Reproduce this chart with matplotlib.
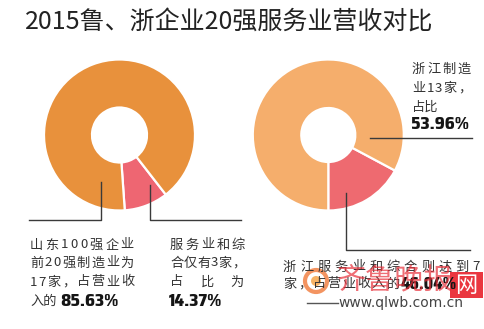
import matplotlib
matplotlib.use("Agg")
import matplotlib.pyplot as plt
from matplotlib import font_manager
from matplotlib.font_manager import FontProperties
from matplotlib.patches import Circle, Rectangle

# ---- data ----
title = "2015鲁、浙企业20强服务业营收对比"
shandong_labels = ["制造业", "服务业和综合"]
shandong_pct = [85.63, 14.37]          # percentages printed in the chart
shandong_drawn = [90.6, 9.4]            # wedge shares as drawn in the picture
zhejiang_labels = ["制造业", "服务业和综合"]
zhejiang_pct = [53.96, 46.04]
zhejiang_drawn = [82.8, 17.2]

W, H = 484, 329
CJK = ["Noto Sans CJK SC", "DejaVu Sans"]
plt.rcParams["font.family"] = CJK

# find a condensed/narrow bold font for the big numbers
numfile = None
cands = []
for f in font_manager.fontManager.ttflist:
    fn = f.fname.lower()
    if ("narrow" in fn or "condensed" in fn) and ("bold" in fn or "black" in fn or "heavy" in fn):
        if "oblique" in fn or "italic" in fn:
            continue
        score = 0
        if "black" in fn or "heavy" in fn or "extrabold" in fn:
            score += 2
        if "narrow" in fn:
            score += 1
        cands.append((score, f.fname))
if cands:
    cands.sort(reverse=True)
    numfile = cands[0][1]
if numfile:
    NUMPROP = dict(fontproperties=FontProperties(fname=numfile))
else:
    NUMPROP = dict(family="DejaVu Sans", fontweight="bold")

fig = plt.figure(figsize=(W / 100, H / 100), dpi=100)
ax = fig.add_axes([0, 0, 1, 1])

def Y(y):
    return H - y

# donuts (red wedge first, counter-clockwise from the bottom)
ax.pie(shandong_drawn[::-1], colors=["#EE6672", "#E8913C"], startangle=-86,
       center=(119.5, Y(135)), radius=75.5, frame=True,
       wedgeprops=dict(width=48, edgecolor="white", linewidth=1.6))
ax.pie(zhejiang_drawn[::-1], colors=["#EE6A70", "#F5AE6C"], startangle=-90,
       center=(328.3, Y(135)), radius=75.5, frame=True,
       wedgeprops=dict(width=48.5, edgecolor="white", linewidth=1.6))
ax.set_xlim(0, W)
ax.set_ylim(0, H)
ax.set_aspect("auto")
ax.axis("off")

lc = "#3a3a3a"
lw = 1.0
# leader lines
ax.plot([101, 101, 29], [Y(182), Y(220), Y(220)], color=lc, lw=lw)
ax.plot([150, 150, 241], [Y(185), Y(220), Y(220)], color=lc, lw=lw)
ax.plot([370, 472], [Y(138), Y(138)], color=lc, lw=lw)
ax.plot([346, 346, 470], [Y(193), Y(250), Y(250)], color=lc, lw=lw)

# title
ax.text(25, Y(23), title, fontsize=18, color="#222222", va="center", ha="left")

fig.canvas.draw()
renderer = fig.canvas.get_renderer()

def spread(text, x0, x1, y, size=9.5, color="#333333"):
    ts = []
    widths = []
    for ch in text:
        t = ax.text(0, Y(y), ch, fontsize=size, color=color, va="center", ha="left")
        ts.append(t)
        widths.append(t.get_window_extent(renderer).width)
    n = len(ts)
    gap = (x1 - x0 - sum(widths)) / (n - 1) if n > 1 else 0
    x = x0
    for t, w in zip(ts, widths):
        t.set_x(x)
        x += w + gap
    return x - gap

def plain(text, x, y, size=9.5, color="#333333"):
    t = ax.text(x, Y(y), text, fontsize=size, color=color, va="center", ha="left")
    return x + t.get_window_extent(renderer).width

def bignum(val, x, y, max_w=62):
    s = f"{val:.2f}%"
    t = ax.text(x, Y(y), s, fontsize=12.5, color="#151515", va="center", ha="left", **NUMPROP)
    w = t.get_window_extent(renderer).width
    if w > max_w:
        t.set_fontsize(12.5 * max_w / w)
    return t

# left block
spread("山东100强企业", 30, 134, 245)
spread("前20强制造业为", 30, 134, 263)
spread("17家，占营业收", 30, 134, 282)
plain("入的", 30, 301)
bignum(shandong_pct[0], 60, 301)

# middle block
spread("服务业和综", 170, 245, 245)
spread("合仅有3家，", 170, 245, 263)
spread("占比为", 170, 244, 282)
bignum(shandong_pct[1], 169, 301)

# right top block
spread("浙江制造", 412, 471, 69)
spread("业13家，", 412, 471, 88)
plain("占比", 412, 107)
bignum(zhejiang_pct[0], 411, 124, max_w=70)

# bottom right block
spread("浙江服务业和综合则达到7", 283, 480, 267)
spread("家，占营业收入的", 283, 400, 284)
bignum(zhejiang_pct[1], 401, 284, max_w=56)

# watermark
ax.add_patch(Circle((316, Y(281)), 11, facecolor="none", edgecolor="#F07A3A", lw=3, alpha=0.8))
ax.add_patch(Circle((316, Y(281)), 5, facecolor="#F5A040", edgecolor="none", alpha=0.8))
ax.text(395, Y(280), "齐鲁晚报", fontsize=21, color="#E8303A", alpha=0.7,
        style="italic", va="center", ha="center")
ax.add_patch(Rectangle((450, Y(298)), 33, 26, facecolor="#E8202A", edgecolor="none", alpha=0.9))
ax.text(466.5, Y(285), "网", fontsize=16, color="white", va="center", ha="center")
ax.plot([307, 338], [Y(303), Y(303)], color="#555555", lw=1.0)
ax.text(338, Y(303), "www.qlwb.com.cn", fontsize=10, color="#444444", va="center", ha="left",
        family="DejaVu Sans")

fig.savefig("out.png", dpi=100)
